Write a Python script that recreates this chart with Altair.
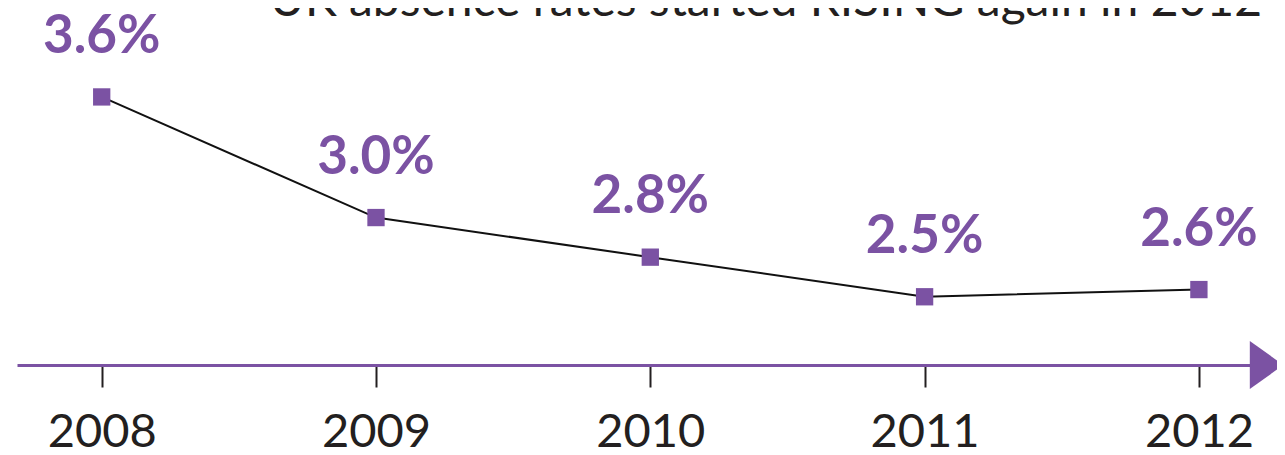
import altair as alt
import pandas as pd

years = [2008, 2009, 2010, 2011, 2012]
rates = [3.64, 2.97, 2.75, 2.53, 2.57]
labels = ["3.6%", "3.0%", "2.8%", "2.5%", "2.6%"]
title_text = "UK absence rates started RISING again in 2012"

PURPLE = "#7b52a3"
DARK = "#231f20"

x_dom = [2007.6912, 2012.1936]
y_dom = [2.151, 4.134]

df = pd.DataFrame({"year": years, "rate": rates, "label": labels})

x_enc = alt.X("year:Q", scale=alt.Scale(domain=x_dom, nice=False, zero=False),
              axis=alt.Axis(values=years, format="d", title=None, grid=False,
                            domainColor=PURPLE, domainWidth=3,
                            tickColor=DARK, tickWidth=2, tickSize=22,
                            labelPadding=22, labelFont="Lato", labelFontSize=47,
                            labelColor=DARK, labelFontWeight="normal"))
y_enc = alt.Y("rate:Q", scale=alt.Scale(domain=y_dom, nice=False, zero=False), axis=None)

base = alt.Chart(df)

line = base.mark_line(color="#111111", strokeWidth=2).encode(x=x_enc, y=y_enc)
pts = base.mark_point(shape="square", filled=True, size=300, color=PURPLE, opacity=1).encode(x=x_enc, y=y_enc)
txt = base.mark_text(font="Lato", fontWeight="bold", fontSize=53, color=PURPLE,
                     baseline="middle", align="center", dy=-60).encode(x=x_enc, y=y_enc, text="label:N")

arrow = alt.Chart(pd.DataFrame({"a": [0]})).mark_point(
    shape="M0,-1L1.4,0L0,1Z", filled=True, size=2304, color=PURPLE, opacity=1
).encode(x=alt.datum(x_dom[1] - 0.008, type="quantitative"),
         y=alt.datum(y_dom[0], type="quantitative"))

title = alt.Chart(pd.DataFrame({"a": [0]})).mark_text(
    text=title_text, align="right", baseline="alphabetic", font="Lato",
    fontSize=48, color=DARK
).encode(x=alt.value(1245), y=alt.value(8))

chart = alt.layer(line, pts, txt, arrow, title).properties(
    width=1235, height=357,
    autosize=alt.AutoSizeParams(type="none"),
    padding={"left": 9, "top": 0, "right": 25, "bottom": 90},
).configure_view(stroke=None)

chart.save("out.html", embed_options={"renderer": "svg", "actions": False})
